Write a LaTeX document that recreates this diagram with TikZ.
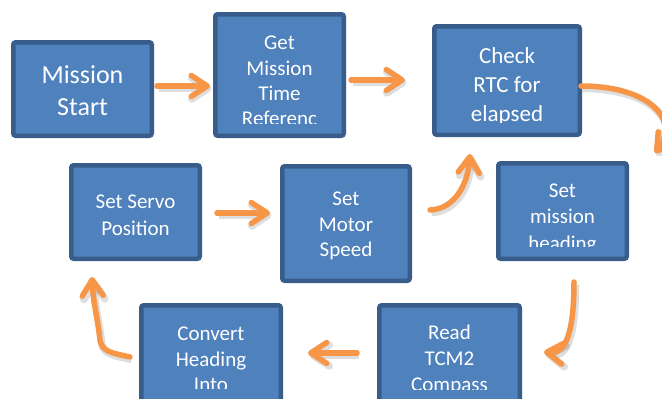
\documentclass[tikz,border=0pt]{standalone}
\usepackage{fontspec}
\setmainfont{Carlito}
\usetikzlibrary{arrows.meta,calc}
\definecolor{boxfill}{HTML}{4F81BD}
\definecolor{boxline}{HTML}{385D8A}
\definecolor{floworange}{HTML}{F79646}
\begin{document}
\begin{tikzpicture}[x=1pt,y=-1pt,
  blk/.style={draw=boxline, fill=boxfill, line width=4.5pt, rounded corners=2.5pt, inner sep=0pt},
  txt/.style={text=white, align=center, inner sep=0pt},
  flow/.style={draw=floworange, line width=5.5pt, line cap=round,
    -{Straight Barb[length=16pt,width=21pt,round]},
    preaction={draw=black, draw opacity=0.13, line width=7.5pt,
      transform canvas={xshift=1.5pt,yshift=-2.5pt}}}]
\useasboundingbox (0,0) rectangle (662,399);
\fill[white] (0,0) rectangle (662,399);
\clip (0,0) rectangle (662,399);

% process boxes
\node[blk, minimum width=138.5pt, minimum height=93.5pt] (b1) at (82.5,89) {};
\node[blk, minimum width=128.5pt, minimum height=121.5pt] (b2) at (279.5,75) {};
\node[blk, minimum width=145.5pt, minimum height=108.5pt] (b3) at (507,80.5) {};
\node[blk, minimum width=128.5pt, minimum height=95.5pt] (b4) at (562.5,211) {};
\node[blk, minimum width=140.5pt, minimum height=100.5pt] (b5) at (449.5,355.5) {};
\node[blk, minimum width=139.5pt, minimum height=100.5pt] (b6) at (211,355.5) {};
\node[blk, minimum width=128.5pt, minimum height=93.5pt] (b7) at (135.5,212) {};
\node[blk, minimum width=127.5pt, minimum height=114.5pt] (b8) at (346,223.5) {};

% box labels, cut off where the text overflows the box
\node[txt, font=\fontsize{26}{32}\selectfont] (t1) at (82.5,90.5) {Mission\\Start};
\begin{scope}
  \clip (213,12) rectangle (346,123);
  \node[txt, font=\fontsize{21}{25.3}\selectfont] (t2) at (279.5,81) {Get\\Mission\\Time\\Referenc};
\end{scope}
\begin{scope}
  \clip (432,24) rectangle (582,122);
  \node[txt, font=\fontsize{23}{29}\selectfont] (t3) at (507,86) {Check\\RTC for\\elapsed};
\end{scope}
\begin{scope}
  \clip (496,161) rectangle (629,246);
  \node[txt, font=\fontsize{21}{26.5}\selectfont] (t4) at (562.5,218.5) {Set\\mission\\heading};
\end{scope}
\begin{scope}
  \clip (377,303) rectangle (522,389);
  \node[txt, font=\fontsize{21}{26}\selectfont] (t5) at (449.5,360) {Read\\TCM2\\Compass};
\end{scope}
\begin{scope}
  \clip (139,303) rectangle (283,388);
  \node[txt, font=\fontsize{21}{25.5}\selectfont] (t6) at (211,359.5) {Convert\\Heading\\Into};
\end{scope}
\node[txt, font=\fontsize{21}{27}\selectfont] (t7) at (135.5,215) {Set Servo\\Position};
\node[txt, font=\fontsize{21}{25.5}\selectfont] (t8) at (346,226) {Set\\Motor\\Speed};

% connectors
\draw[flow] ($(b1.east)+(3,-3)$) -- ($(b2.west)+(-3,11)$);
\draw[flow] ($(b2.east)+(5,5)$) -- ($(b3.west)+(-27,-0.5)$);
\draw[flow] ($(b3.east)+(-1,5.5)$) .. controls +(70,0) and +(25,-32) .. ($(b4.north east)+(26,-8)$);
\draw[flow] ($(b4.south)+(11.5,21)$) .. controls +(0,50) and +(22,2) .. ($(b5.east)+(22,-3.5)$);
\draw[flow] ($(b5.west)+(-20,-2.5)$) -- ($(b6.east)+(25,-2.5)$);
\draw[flow] ($(b6.west)+(-9,1.5)$) .. controls +(-18,-4) and +(2,12) .. ($(b6.west)+(-39,-15.5)$)
  .. controls +(-2,-20) and +(1,25) .. ($(b7.south)+(-43.5,16)$);
\draw[flow] ($(b7.east)+(15,1)$) -- ($(b8.west)+(-10,-10.5)$);
\draw[flow] ($(b8.east)+(18,-13.5)$) .. controls +(25,-1) and +(-2,30) .. ($(b3.south)+(-37,17)$);
\end{tikzpicture}
\end{document}
